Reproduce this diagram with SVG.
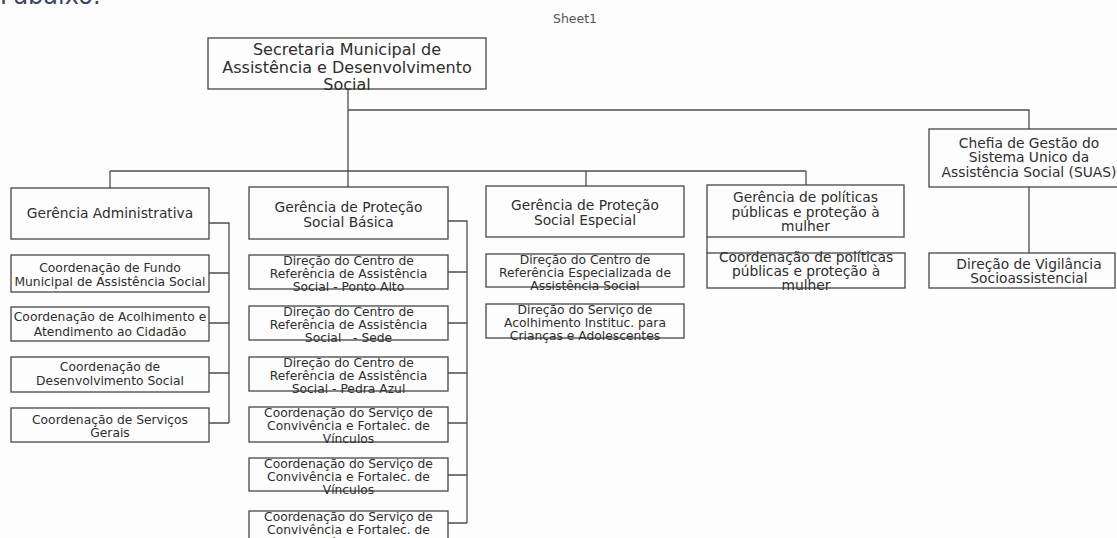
<svg xmlns="http://www.w3.org/2000/svg" width="1117" height="538" viewBox="0 0 1117 538">
<style>
.bx{fill:none;stroke:#474747;stroke-width:1.3}
.ln{fill:none;stroke:#4d4d4d;stroke-width:1.3}
text{font-family:"DejaVu Sans","Noto Sans",sans-serif;fill:#2e2e2e;text-anchor:middle}
.t0{font-size:16px}
.t1{font-size:13.8px}
.t2{font-size:12.3px}
</style>
<rect width="1117" height="538" fill="#fdfdfd"/>
<text x="0" y="4" style="font-size:24px;text-anchor:start;fill:#3a4760">Pabaixo:</text>
<text x="575" y="23" style="font-size:12.5px;fill:#555">Sheet1</text>

<g id="connectors">
<path class="ln" d="M348,89V187M348,110H1029V129M110,171H806M110,171V188M586,171V186M806,171V185M1029,187V253"/>
<path class="ln" d="M209,223H229V423M209,273H229M209,323H229M209,373H229M209,423H229"/>
<path class="ln" d="M448,221H467V523M448,272H467M448,323H467M448,373H467M448,423H467M448,475H467M448,523H467"/>
<path class="ln" d="M707,237V253"/>
</g>

<g id="n-secretaria"><rect class="bx" x="208" y="38" width="278" height="51"/>
<text class="t0" x="347" y="55">Secretaria Municipal de</text><text class="t0" x="347" y="73">Assistência e Desenvolvimento</text><text class="t0" x="347" y="90">Social</text></g>

<g id="n-ger-adm"><rect class="bx" x="11" y="188" width="198" height="51"/>
<text class="t1" x="110" y="218">Gerência Administrativa</text></g>
<g id="n-coord-fundo"><rect class="bx" x="11" y="255" width="198" height="37"/>
<text class="t2" x="110" y="272">Coordenação de Fundo</text><text class="t2" x="110" y="286">Municipal de Assistência Social</text></g>
<g id="n-coord-acolh"><rect class="bx" x="11" y="307" width="198" height="34"/>
<text class="t2" x="110" y="321">Coordenação de Acolhimento e</text><text class="t2" x="110" y="336">Atendimento ao Cidadão</text></g>
<g id="n-coord-desenv"><rect class="bx" x="11" y="357" width="198" height="35"/>
<text class="t2" x="110" y="371">Coordenação de</text><text class="t2" x="110" y="385">Desenvolvimento Social</text></g>
<g id="n-coord-serv"><rect class="bx" x="11" y="408" width="198" height="34"/>
<text class="t2" x="110" y="424">Coordenação de Serviços</text><text class="t2" x="110" y="437">Gerais</text></g>

<g id="n-ger-basica"><rect class="bx" x="249" y="187" width="199" height="52"/>
<text class="t1" x="348.5" y="212">Gerência de Proteção</text><text class="t1" x="348.5" y="227">Social Básica</text></g>
<g id="n-cras-ponto"><rect class="bx" x="249" y="255" width="199" height="34"/>
<text class="t2" x="348.5" y="265">Direção do Centro de</text><text class="t2" x="348.5" y="278">Referência de Assistência</text><text class="t2" x="348.5" y="291">Social  - Ponto Alto</text></g>
<g id="n-cras-sede"><rect class="bx" x="249" y="306" width="199" height="34"/>
<text class="t2" x="348.5" y="316">Direção do Centro de</text><text class="t2" x="348.5" y="329">Referência de Assistência</text><text class="t2" x="348.5" y="342" xml:space="preserve">Social   - Sede</text></g>
<g id="n-cras-pedra"><rect class="bx" x="249" y="357" width="199" height="34"/>
<text class="t2" x="348.5" y="367">Direção do Centro de</text><text class="t2" x="348.5" y="380">Referência de Assistência</text><text class="t2" x="348.5" y="393">Social - Pedra Azul</text></g>
<g id="n-scfv1"><rect class="bx" x="249" y="407" width="199" height="35"/>
<text class="t2" x="348.5" y="417">Coordenação do Serviço de</text><text class="t2" x="348.5" y="430">Convivência e Fortalec. de</text><text class="t2" x="348.5" y="443">Vínculos</text></g>
<g id="n-scfv2"><rect class="bx" x="249" y="458" width="199" height="33"/>
<text class="t2" x="348.5" y="468">Coordenação do Serviço de</text><text class="t2" x="348.5" y="481">Convivência e Fortalec. de</text><text class="t2" x="348.5" y="494">Vínculos</text></g>
<g id="n-scfv3"><rect class="bx" x="249" y="511" width="199" height="34"/>
<text class="t2" x="348.5" y="521">Coordenação do Serviço de</text><text class="t2" x="348.5" y="534">Convivência e Fortalec. de</text><text class="t2" x="348.5" y="547">Vínculos</text></g>

<g id="n-ger-especial"><rect class="bx" x="486" y="186" width="198" height="51"/>
<text class="t1" x="585" y="210">Gerência de Proteção</text><text class="t1" x="585" y="225">Social Especial</text></g>
<g id="n-creas"><rect class="bx" x="486" y="254" width="198" height="33"/>
<text class="t2" x="585" y="264">Direção do Centro de</text><text class="t2" x="585" y="277">Referência Especializada de</text><text class="t2" x="585" y="290">Assistência Social</text></g>
<g id="n-acolh-inst"><rect class="bx" x="486" y="304" width="198" height="34"/>
<text class="t2" x="585" y="314">Direção do Serviço de</text><text class="t2" x="585" y="327">Acolhimento Instituc. para</text><text class="t2" x="585" y="340">Crianças e Adolescentes</text></g>

<g id="n-ger-mulher"><rect class="bx" x="707" y="185" width="197" height="52"/>
<text class="t1" x="805.5" y="202">Gerência de políticas</text><text class="t1" x="805.5" y="217">públicas e proteção à</text><text class="t1" x="805.5" y="231">mulher</text></g>
<g id="n-coord-mulher"><rect class="bx" x="707" y="253" width="198" height="35"/>
<text class="t1" x="806" y="262">Coordenação de políticas</text><text class="t1" x="806" y="276">públicas e proteção à</text><text class="t1" x="806" y="290">mulher</text></g>

<g id="n-suas"><rect class="bx" x="929" y="129" width="200" height="58"/>
<text class="t1" x="1029" y="148">Chefia de Gestão do</text><text class="t1" x="1029" y="162">Sistema Unico da</text><text class="t1" x="1029" y="177">Assistência Social (SUAS)</text></g>
<g id="n-vigilancia"><rect class="bx" x="929" y="253" width="186" height="35"/>
<text class="t1" x="1029" y="269">Direção de Vigilância</text><text class="t1" x="1029" y="283">Socioassistencial</text></g>
</svg>
